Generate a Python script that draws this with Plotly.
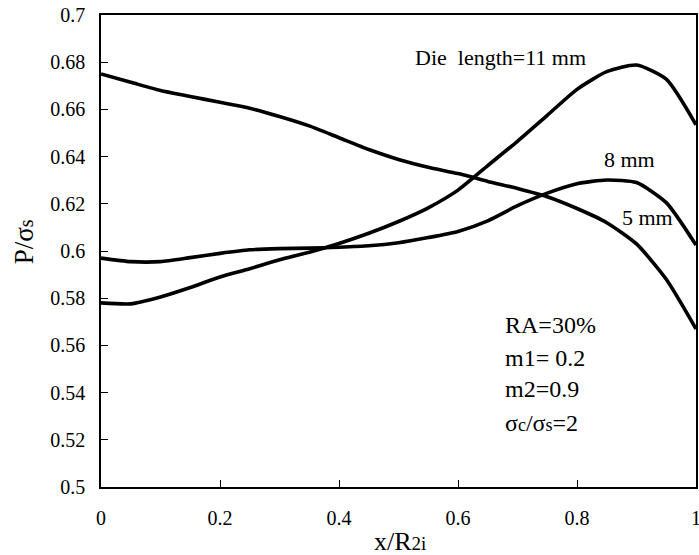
import plotly.graph_objects as go

x_vals = [0, 0.05, 0.1, 0.15, 0.2, 0.25, 0.3, 0.35, 0.4, 0.45, 0.5,
          0.55, 0.6, 0.65, 0.7, 0.75, 0.8, 0.85, 0.9, 0.95, 1.0]

p_5mm = [0.675, 0.6715, 0.668, 0.6655, 0.663, 0.6605, 0.657, 0.653, 0.648, 0.643, 0.6388,
         0.6355, 0.6328, 0.6295, 0.6265, 0.623, 0.618, 0.612, 0.603, 0.588, 0.567]
p_8mm = [0.597, 0.5955, 0.5955, 0.5972, 0.599, 0.6005, 0.601, 0.6012, 0.6016, 0.6022, 0.6035,
         0.6057, 0.6083, 0.6128, 0.6192, 0.6245, 0.6285, 0.6301, 0.629, 0.6205, 0.6025]
p_11mm = [0.578, 0.5776, 0.5805, 0.5845, 0.589, 0.5925, 0.5963, 0.5995, 0.6032, 0.6075, 0.6125,
          0.6183, 0.6258, 0.6362, 0.6465, 0.6575, 0.6685, 0.676, 0.6788, 0.6728, 0.6535]

y_ticks = [0.5, 0.52, 0.54, 0.56, 0.58, 0.6, 0.62, 0.64, 0.66, 0.68, 0.7]
y_ticktext = ["0.5", "0.52", "0.54", "0.56", "0.58", "0.6", "0.62", "0.64", "0.66", "0.68", "0.7"]
x_ticks = [0, 0.2, 0.4, 0.6, 0.8, 1.0]
x_ticktext = ["0", "0.2", "0.4", "0.6", "0.8", "1"]

FONT = "Liberation Serif, Times New Roman, serif"

fig = go.Figure()
for name, ys in [("5 mm", p_5mm), ("8 mm", p_8mm), ("11 mm", p_11mm)]:
    fig.add_trace(go.Scatter(x=x_vals, y=ys, mode="lines", name=name,
                             line=dict(color="black", width=3.6, shape="spline", smoothing=0.6)))

def small(t, size):
    return '<span style="font-size:%dpx">%s</span>' % (size, t)

annotations = [
    dict(x=0.524, y=0.6818, text="Die\u00a0 length=11 mm", size=22),
    dict(x=0.842, y=0.6386, text="8 mm", size=22),
    dict(x=0.872, y=0.6144, text="5 mm", size=22),
    dict(x=0.676, y=0.5686, text="RA=30%", size=24),
    dict(x=0.676, y=0.5547, text="m1= 0.2", size=24),
    dict(x=0.676, y=0.5415, text="m2=0.9", size=24),
    dict(x=0.676, y=0.5271, text="σ" + small("c", 18) + "/σ" + small("s", 18) + "=2", size=24),
]
for a in annotations:
    size = a.pop("size")
    fig.add_annotation(xref="x", yref="y", showarrow=False, xanchor="left", yanchor="middle",
                       font=dict(family=FONT, size=size, color="black"), **a)

# axis titles
fig.add_annotation(xref="paper", yref="paper", x=0.503, y=-0.115, yanchor="middle", xanchor="center",
                   text="x/R" + small("2i", 19), showarrow=False,
                   font=dict(family=FONT, size=26, color="black"))
fig.add_annotation(xref="paper", yref="paper", x=-0.129, y=0.519, yanchor="middle", xanchor="center",
                   text="P/σ" + small("s", 20), textangle=-90, showarrow=False,
                   font=dict(family=FONT, size=27, color="black"))

fig.update_layout(
    width=699, height=555,
    margin=dict(l=101, r=3, t=15, b=68, autoexpand=False),
    paper_bgcolor="white", plot_bgcolor="white",
    showlegend=False,
    font=dict(family=FONT, size=20, color="black"),
)
fig.update_xaxes(range=[0, 1], tickvals=x_ticks, ticktext=x_ticktext, automargin=False,
                 ticklabeloverflow="allow",
                 showline=True, linecolor="black", linewidth=1.5, mirror=True,
                 ticks="inside", ticklen=7, tickwidth=1, tickcolor="black",
                 showgrid=False, zeroline=False, ticklabelstandoff=12,
                 tickfont=dict(family=FONT, size=20, color="black"))
fig.update_yaxes(range=[0.5, 0.7], tickvals=y_ticks, ticktext=y_ticktext, automargin=False,
                 ticklabeloverflow="allow",
                 showline=True, linecolor="black", linewidth=1.5, mirror=True,
                 ticks="inside", ticklen=7, tickwidth=1, tickcolor="black",
                 showgrid=False, zeroline=False, ticklabelstandoff=10,
                 tickfont=dict(family=FONT, size=20, color="black"))

fig.write_html("out.html")
